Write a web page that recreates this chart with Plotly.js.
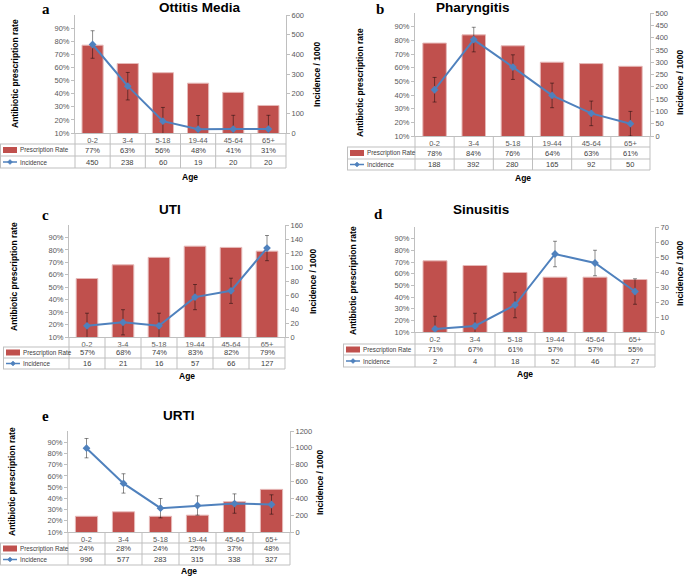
<!DOCTYPE html>
<html>
<head>
<meta charset="utf-8">
<script src="https://cdn.plot.ly/plotly-3.0.1.min.js"></script>
<style>body{margin:0;background:#fff}#chart{width:685px;height:576px}</style>
</head>
<body>
<div id="chart"></div>
<script>
const ages = ['0-2', '3-4', '5-18', '19-44', '45-64', '65+'];

const rateOtitis = [0.77, 0.63, 0.56, 0.48, 0.41, 0.31];
const incOtitis = [450, 238, 60, 19, 20, 20];
const errOtitis = 70;

const ratePharyngitis = [0.78, 0.84, 0.76, 0.64, 0.63, 0.61];
const incPharyngitis = [188, 392, 280, 165, 92, 50];
const errPharyngitis = 50;

const rateUti = [0.57, 0.68, 0.74, 0.83, 0.82, 0.79];
const incUti = [16, 21, 16, 57, 66, 127];
const errUti = 18;

const rateSinusitis = [0.71, 0.67, 0.61, 0.57, 0.57, 0.55];
const incSinusitis = [2, 4, 18, 52, 46, 27];
const errSinusitis = 8.5;

const rateUrti = [0.24, 0.28, 0.24, 0.25, 0.37, 0.48];
const incUrti = [996, 577, 283, 315, 338, 327];
const errUrti = 115;

const W = 685, H = 576;
const px = x => x / W;
const py = y => 1 - y / H;

const RED = '#C0504D', BLUE = '#4F81BD', GRID = '#bfbfbf', TXT = '#404040';
const FONT = 'Liberation Sans, Arial, sans-serif';

// panel geometry in pixels
const panels = [
  {letter: 'a', title: 'Ottitis Media', rate: rateOtitis, inc: incOtitis, err: errOtitis, max: 600, dtick: 100,
   L: 75, R: 286, T: 15, B: 133, tl: 0, rows: [144, 156, 168], tx: 157, ty: 8, lx: 40, ly: 9, ageY: 177, ltx: 15, lty: 74, rtx: 317, rty: 75},
  {letter: 'b', title: 'Pharyngitis', rate: ratePharyngitis, inc: incPharyngitis, err: errPharyngitis, max: 500, dtick: 50,
   L: 415, R: 650, T: 13, B: 136, tl: 347, rows: [147, 159, 170], tx: 512, ty: 7, lx: 380, ly: 9, ageY: 178, ltx: 360, lty: 83, rtx: 680, rty: 83},
  {letter: 'c', title: 'UTI', rate: rateUti, inc: incUti, err: errUti, max: 160, dtick: 20,
   L: 69, R: 285, T: 225, B: 337, tl: 3, rows: [347, 358, 369], tx: 157, ty: 209, lx: 40, ly: 215, ageY: 376, ltx: 14, lty: 277, rtx: 313, rty: 282},
  {letter: 'd', title: 'Sinusitis', rate: rateSinusitis, inc: incSinusitis, err: errSinusitis, max: 70, dtick: 10,
   L: 415, R: 655, T: 227, B: 332, tl: 343, rows: [344, 355, 367], tx: 511, ty: 210, lx: 379, ly: 214, ageY: 374, ltx: 353, lty: 280, rtx: 680, rty: 274},
  {letter: 'e', title: 'URTI', rate: rateUrti, inc: incUrti, err: errUrti, max: 1200, dtick: 200,
   L: 68, R: 290, T: 431, B: 532, tl: 0, rows: [543, 554, 565], tx: 161, ty: 415, lx: 40, ly: 416, ageY: 571, ltx: 12, lty: 482, rtx: 320, rty: 483}
];

const data = [];
const layout = {
  width: W, height: H,
  margin: {l: 0, r: 0, t: 0, b: 0},
  paper_bgcolor: '#fff', plot_bgcolor: 'rgba(0,0,0,0)',
  showlegend: false,
  font: {family: FONT, color: TXT},
  shapes: [], annotations: []
};

const tickFont = {family: FONT, size: 7.5, color: '#595959'};

panels.forEach((p, i) => {
  const n = i + 1;
  const xa = n === 1 ? 'x' : 'x' + n;
  const yl = 'y' + (2 * i + 1 === 1 ? '' : 2 * i + 1);
  const yr = 'y' + (2 * i + 2);
  const xKey = 'xaxis' + (n === 1 ? '' : n);
  const ylKey = 'yaxis' + (2 * i + 1 === 1 ? '' : 2 * i + 1);
  const yrKey = 'yaxis' + (2 * i + 2);
  const yDom = [py(p.B), py(p.T)];

  layout[xKey] = {
    domain: [px(p.L), px(p.R)], anchor: yl, type: 'category',
    range: [-0.5, 5.5], showline: true, linecolor: GRID, linewidth: 1,
    ticks: '', showgrid: false, zeroline: false, tickfont: tickFont, fixedrange: true
  };
  layout[ylKey] = {
    domain: yDom, anchor: xa, range: [0.1, 1.0],
    tickvals: [0.1, 0.2, 0.3, 0.4, 0.5, 0.6, 0.7, 0.8, 0.9], tickformat: '.0%',
    showline: true, linecolor: GRID, ticks: 'outside', ticklen: 3, tickcolor: GRID,
    showgrid: false, zeroline: false, tickfont: tickFont
  };
  layout[yrKey] = {
    domain: yDom, anchor: xa, overlaying: yl, side: 'right',
    range: [0, p.max], dtick: p.dtick,
    showline: true, linecolor: GRID, ticks: 'outside', ticklen: 3, tickcolor: GRID,
    showgrid: false, zeroline: false, tickfont: tickFont
  };

  data.push({
    type: 'bar', x: ages, y: p.rate, xaxis: xa, yaxis: yl, width: 0.6,
    marker: {color: RED, line: {color: '#e6b9b8', width: 1}},
    hoverinfo: 'skip'
  });
  data.push({
    type: 'scatter', mode: 'lines+markers', x: ages, y: p.inc, xaxis: xa, yaxis: yr,
    line: {color: BLUE, width: 2},
    marker: {symbol: 'diamond', size: 6, color: BLUE},
    error_y: {type: 'constant', value: p.err, color: 'rgba(0,0,0,0.45)', thickness: 1, width: 2},
    cliponaxis: true, hoverinfo: 'skip'
  });

  // data table grid
  const xd = xa + ' domain';
  const bottom = p.rows[2];
  for (let k = 0; k <= 6; k++) {
    layout.shapes.push({type: 'line', xref: xd, yref: 'paper', x0: k / 6, x1: k / 6,
      y0: py(p.B), y1: py(bottom), line: {color: GRID, width: 1}});
  }
  p.rows.forEach(r => {
    layout.shapes.push({type: 'line', xref: 'paper', yref: 'paper', x0: px(p.tl), x1: px(p.R),
      y0: py(r), y1: py(r), line: {color: GRID, width: 1}});
  });
  layout.shapes.push({type: 'line', xref: 'paper', yref: 'paper', x0: px(p.tl + 0.5), x1: px(p.tl + 0.5),
    y0: py(p.rows[0]), y1: py(bottom), line: {color: GRID, width: 1}});

  const rc1 = (p.rows[0] + p.rows[1]) / 2;
  const rc2 = (p.rows[1] + p.rows[2]) / 2;

  // legend keys
  layout.shapes.push({type: 'rect', xref: 'paper', yref: 'paper', x0: px(p.tl + 3), x1: px(p.tl + 17),
    y0: py(rc1 + 3), y1: py(rc1 - 3), fillcolor: RED, line: {width: 0}});
  layout.shapes.push({type: 'line', xref: 'paper', yref: 'paper', x0: px(p.tl + 3), x1: px(p.tl + 17),
    y0: py(rc2), y1: py(rc2), line: {color: BLUE, width: 1.5}});
  const dx = p.tl + 10;
  layout.shapes.push({type: 'path', xref: 'paper', yref: 'paper', fillcolor: BLUE, line: {color: BLUE, width: 0.5},
    path: `M ${px(dx - 2.5)} ${py(rc2)} L ${px(dx)} ${py(rc2 - 2.5)} L ${px(dx + 2.5)} ${py(rc2)} L ${px(dx)} ${py(rc2 + 2.5)} Z`});

  const cellFont = {family: FONT, size: 7.5, color: TXT};
  const keyFont = {family: FONT, size: 6.3, color: TXT};
  layout.annotations.push({xref: 'paper', yref: 'paper', x: px(p.tl + 18), y: py(rc1), text: 'Prescription Rate',
    xanchor: 'left', yanchor: 'middle', showarrow: false, font: keyFont});
  layout.annotations.push({xref: 'paper', yref: 'paper', x: px(p.tl + 18), y: py(rc2), text: 'Incidence',
    xanchor: 'left', yanchor: 'middle', showarrow: false, font: keyFont});

  ages.forEach((a, k) => {
    layout.annotations.push({xref: xa, yref: 'paper', x: a, y: py(rc1), text: Math.round(p.rate[k] * 100) + '%',
      showarrow: false, yanchor: 'middle', font: cellFont});
    layout.annotations.push({xref: xa, yref: 'paper', x: a, y: py(rc2), text: String(p.inc[k]),
      showarrow: false, yanchor: 'middle', font: cellFont});
  });

  // titles
  layout.annotations.push({xref: 'paper', yref: 'paper', x: px(p.tx), y: py(p.ty), text: '<b>' + p.title + '</b>',
    showarrow: false, yanchor: 'middle', font: {family: FONT, size: 13.5, color: '#000'}});
  layout.annotations.push({xref: 'paper', yref: 'paper', x: px(p.lx), y: py(p.ly), text: '<b>' + p.letter + '</b>',
    showarrow: false, yanchor: 'middle', font: {family: 'Liberation Serif, serif', size: 15, color: '#000'}});
  layout.annotations.push({xref: 'paper', yref: 'paper', x: px((p.L + p.R) / 2), y: py(p.ageY), text: '<b>Age</b>',
    showarrow: false, yanchor: 'middle', font: {family: FONT, size: 8.5, color: '#000'}});
  layout.annotations.push({xref: 'paper', yref: 'paper', x: px(p.ltx), y: py(p.lty), text: '<b>Antibiotic prescription rate</b>',
    showarrow: false, textangle: -90, xanchor: 'center', yanchor: 'middle', font: {family: FONT, size: 8.5, color: '#000'}});
  layout.annotations.push({xref: 'paper', yref: 'paper', x: px(p.rtx), y: py(p.rty), text: '<b>Incidence / 1000</b>',
    showarrow: false, textangle: -90, xanchor: 'center', yanchor: 'middle', font: {family: FONT, size: 8.5, color: '#000'}});
});

Plotly.newPlot('chart', data, layout, {staticPlot: true});
</script>
</body>
</html>
